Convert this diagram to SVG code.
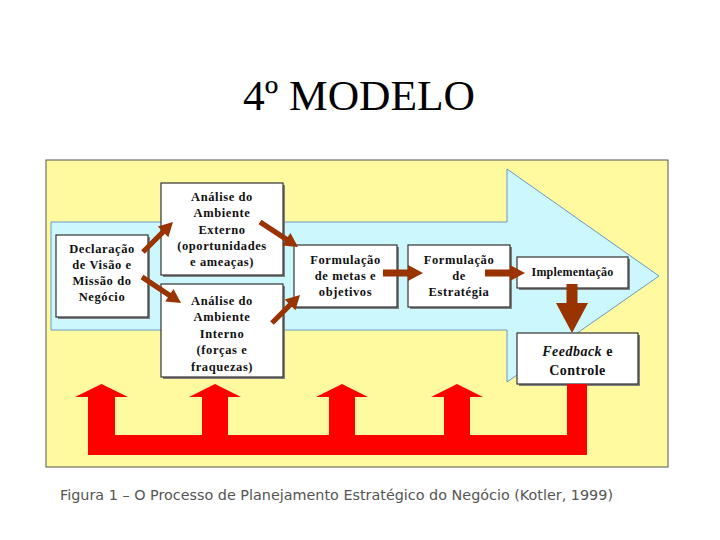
<svg xmlns="http://www.w3.org/2000/svg" width="720" height="540" viewBox="0 0 720 540">
<style>
.title{font-family:"Liberation Serif","Times New Roman",serif;font-size:42px;fill:#000;text-anchor:middle}
.lbl{font-family:"Liberation Serif","Times New Roman",serif;font-weight:bold;font-size:12.5px;letter-spacing:0.6px;fill:#111;text-anchor:middle}
.fb{font-family:"Liberation Serif","Times New Roman",serif;font-weight:bold;font-size:14px;letter-spacing:0.5px;fill:#111;text-anchor:middle}
.box{fill:#fff;stroke:#333;stroke-width:1.2}
.shadow{fill:#808080}
.brown{fill:#993300}
.cap{font-family:"DejaVu Sans","Verdana",sans-serif;font-size:13.5px;fill:#555}
</style>
<rect width="720" height="540" fill="#fff"/>
<text class="title" x="359" y="110" textLength="232" lengthAdjust="spacingAndGlyphs">4º MODELO</text>
<g id="panel">
<rect x="46" y="160" width="622" height="307" fill="#fff9a0" stroke="#555" stroke-width="1"/>
<polygon points="51,222 507,222 507,169 659,276 507,382 507,330 51,330" fill="#ccf7fc" stroke="#6a98c8" stroke-width="1"/>
</g>
<g id="declaracao">
<rect class="shadow" x="58" y="237" width="92" height="82"/>
<rect class="box" x="56" y="235" width="92" height="82"/>
<text class="lbl" x="102" y="253">Declaração</text>
<text class="lbl" x="102" y="269">de Visão e</text>
<text class="lbl" x="102" y="285">Missão do</text>
<text class="lbl" x="102" y="301">Negócio</text>
</g>
<g id="externo">
<rect class="shadow" x="163" y="185" width="122" height="92"/>
<rect class="box" x="161" y="183" width="122" height="92"/>
<text class="lbl" x="222" y="201">Análise do</text>
<text class="lbl" x="222" y="217">Ambiente</text>
<text class="lbl" x="222" y="234">Externo</text>
<text class="lbl" x="222" y="250">(oportunidades</text>
<text class="lbl" x="222" y="266">e ameaças)</text>
</g>
<g id="interno">
<rect class="shadow" x="163" y="286" width="122" height="93"/>
<rect class="box" x="161" y="284" width="122" height="93"/>
<text class="lbl" x="222" y="305">Análise do</text>
<text class="lbl" x="222" y="321">Ambiente</text>
<text class="lbl" x="222" y="338">Interno</text>
<text class="lbl" x="222" y="354">(forças e</text>
<text class="lbl" x="222" y="371">fraquezas)</text>
</g>
<g id="metas">
<rect class="shadow" x="296" y="247" width="103" height="62"/>
<rect class="box" x="294" y="245" width="103" height="62"/>
<text class="lbl" x="345.5" y="264">Formulação</text>
<text class="lbl" x="345.5" y="280">de metas e</text>
<text class="lbl" x="345.5" y="296">objetivos</text>
</g>
<g id="estrategia">
<rect class="shadow" x="410" y="247" width="102" height="62"/>
<rect class="box" x="408" y="245" width="102" height="62"/>
<text class="lbl" x="459" y="264">Formulação</text>
<text class="lbl" x="459" y="280">de</text>
<text class="lbl" x="459" y="296">Estratégia</text>
</g>
<g id="implementacao">
<rect class="shadow" x="519" y="259" width="111" height="31"/>
<rect class="box" x="517" y="257" width="111" height="31"/>
<text class="lbl" x="572.5" y="276" style="font-size:12px;letter-spacing:0.2px">Implementação</text>
</g>
<g id="feedback">
<rect class="shadow" x="519" y="335" width="121" height="51"/>
<rect class="box" x="517" y="333" width="121" height="51"/>
<text class="fb" x="577.5" y="356"><tspan font-style="italic">Feedback</tspan> e</text>
<text class="fb" x="577.5" y="375">Controle</text>
</g>
<g id="connectors">
<path class="brown" transform="translate(143,252) rotate(-45)" d="M0,-2.6 L28.4,-2.6 L28.4,-7.5 L42.4,0 L28.4,7.5 L28.4,2.6 L0,2.6 Z"/>
<path class="brown" transform="translate(142,277) rotate(33.7)" d="M0,-2.6 L32.9,-2.6 L32.9,-7.5 L46.9,0 L32.9,7.5 L32.9,2.6 L0,2.6 Z"/>
<path class="brown" transform="translate(260,222) rotate(33.3)" d="M0,-2.6 L31.5,-2.6 L31.5,-7.5 L45.5,0 L31.5,7.5 L31.5,2.6 L0,2.6 Z"/>
<path class="brown" transform="translate(272,323) rotate(-45)" d="M0,-2.6 L25.6,-2.6 L25.6,-7.5 L39.6,0 L25.6,7.5 L25.6,2.6 L0,2.6 Z"/>
<path class="brown" d="M383,269.5 L408,269.5 L408,265 L423,273 L408,281 L408,276.5 L383,276.5 Z"/>
<path class="brown" d="M485,269.5 L510,269.5 L510,265 L525,273 L510,281 L510,276.5 L485,276.5 Z"/>
<path class="brown" d="M566.5,284 L577.5,284 L577.5,303 L588,303 L572,333 L556,303 L566.5,303 Z"/>
<path fill="#ff0000" d="M88,455 L88,397 L75,397 L101.5,384 L128,397 L115,397 L115,435 L202,435 L202,397 L189,397 L215,384 L241,397 L228,397 L228,435 L329,435 L329,397 L316,397 L342,384 L368,397 L355,397 L355,435 L444,435 L444,397 L431,397 L457,384 L483,397 L470,397 L470,435 L567,435 L567,384 L587,384 L587,455 Z"/>
</g>
<text class="cap" x="60" y="500" textLength="553" lengthAdjust="spacingAndGlyphs">Figura 1 – O Processo de Planejamento Estratégico do Negócio (Kotler, 1999)</text>
</svg>
